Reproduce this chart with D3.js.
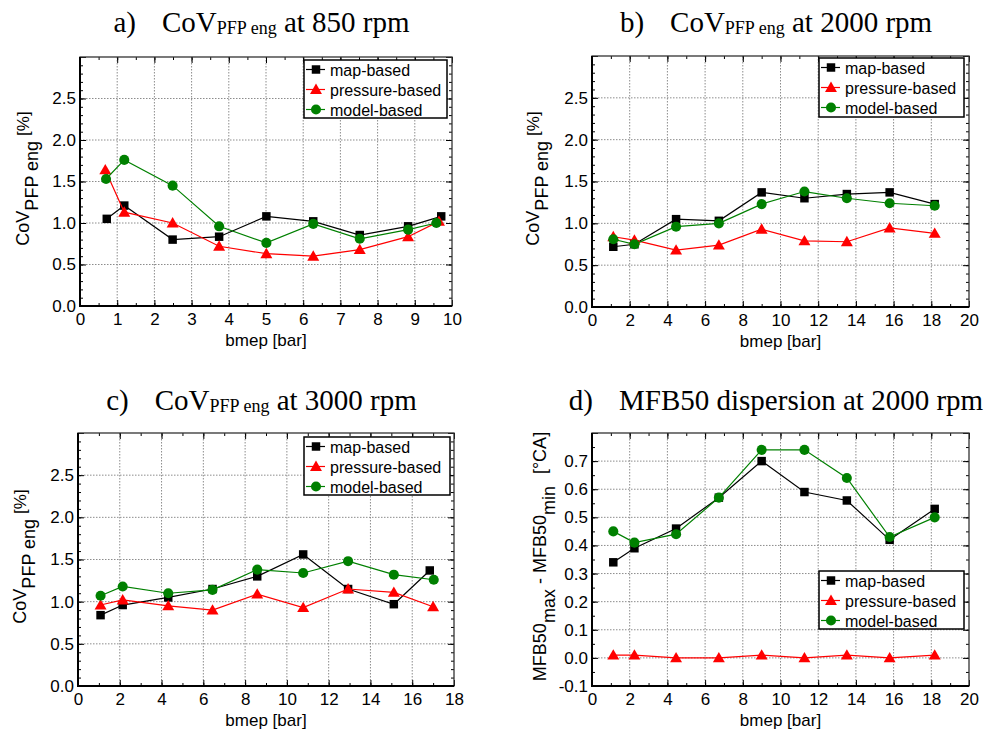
<!DOCTYPE html>
<html><head><meta charset="utf-8">
<script src="https://cdn.jsdelivr.net/npm/d3@7"></script>
<style>
html,body{margin:0;padding:0;background:#fff;}
svg{display:block;}
</style></head>
<body>
<svg id="chart" width="986" height="733"></svg>
<script>
// ---------------- DATA ----------------
const seriesNames = ["map-based", "pressure-based", "model-based"];

// a) CoV PFP eng at 850 rpm
const aX_map      = [0.72, 1.19, 2.49, 3.74, 5.01, 6.27, 7.52, 8.82, 9.71];
const aX_pressure = [0.68, 1.19, 2.49, 3.74, 5.01, 6.27, 7.52, 8.82, 9.65];
const aX_model    = [0.70, 1.19, 2.49, 3.74, 5.01, 6.27, 7.52, 8.82, 9.58];
const aMap      = [1.05, 1.21, 0.80, 0.835, 1.08, 1.02, 0.855, 0.96, 1.08];
const aPressure = [1.64, 1.13, 1.00, 0.72, 0.63, 0.60, 0.68, 0.835, 1.02];
const aModel    = [1.53, 1.76, 1.45, 0.96, 0.76, 0.99, 0.81, 0.92, 1.00];

// b) CoV PFP eng at 2000 rpm
const bX        = [1.13, 2.25, 4.46, 6.73, 9.0, 11.27, 13.52, 15.79, 18.18];
const bMap      = [0.72, 0.75, 1.05, 1.03, 1.37, 1.30, 1.35, 1.37, 1.23];
const bPressure = [0.84, 0.80, 0.68, 0.74, 0.93, 0.79, 0.78, 0.945, 0.88];
const bModel    = [0.81, 0.75, 0.96, 1.00, 1.23, 1.38, 1.30, 1.24, 1.21];

// c) CoV PFP eng at 3000 rpm
const cX_map      = [1.08, 2.14, 4.32, 6.44, 8.58, 10.78, 12.93, 15.12, 16.84];
const cX_pressure = [1.08, 2.14, 4.32, 6.44, 8.58, 10.78, 12.93, 15.12, 17.0];
const cX_model    = [1.08, 2.14, 4.32, 6.44, 8.58, 10.78, 12.93, 15.12, 17.03];
const cMap      = [0.84, 0.96, 1.05, 1.15, 1.30, 1.56, 1.15, 0.97, 1.37];
const cPressure = [0.96, 1.02, 0.95, 0.90, 1.09, 0.93, 1.15, 1.11, 0.94];
const cModel    = [1.07, 1.18, 1.10, 1.14, 1.38, 1.34, 1.48, 1.32, 1.26];

// d) MFB50 dispersion at 2000 rpm
const dX        = [1.13, 2.25, 4.46, 6.73, 9.0, 11.27, 13.52, 15.79, 18.18];
const dMap      = [0.34, 0.39, 0.46, 0.57, 0.70, 0.59, 0.56, 0.42, 0.53];
const dPressure = [0.01, 0.01, 0.00, 0.00, 0.01, 0.00, 0.01, 0.00, 0.01];
const dModel    = [0.45, 0.41, 0.44, 0.57, 0.74, 0.74, 0.64, 0.43, 0.50];

// tick labels
const xTicksA = [0,1,2,3,4,5,6,7,8,9,10];
const xTicksB = [0,2,4,6,8,10,12,14,16,18,20];
const xTicksC = [0,2,4,6,8,10,12,14,16,18];
const xTicksD = [0,2,4,6,8,10,12,14,16,18,20];
const yTicksCov = [0,0.5,1.0,1.5,2.0,2.5];
const yTicksD = [-0.1,0,0.1,0.2,0.3,0.4,0.5,0.6,0.7];

// ---------------- DRAW ----------------
const svg = d3.select("#chart");
const colors = ["#000000", "#ff0000", "#008000"];
const symbols = [d3.symbolSquare, d3.symbolTriangle, d3.symbolCircle];
const symSizes = [72, 62, 80];
const SANS = "'Liberation Sans', Arial, sans-serif";
const SERIF = "'Liberation Serif', 'Times New Roman', serif";
const fmt = v => d3.format(".1f")(v).replace("\u2212", "-");

function range(a, b, s) { const r = []; for (let v = a; v <= b + 1e-9; v += s) r.push(+v.toFixed(6)); return r; }

const panels = [
  { L:80, R:452, T:57, B:306, xd:[0,10], xt:xTicksA, xminor:0.5, yd:[0,3], yt:yTicksCov, yminor:0.1, yMajAll:0.5,
    xs:[aX_map, aX_pressure, aX_model], ys:[aMap, aPressure, aModel],
    title:["a)", "CoV", "PFP eng", " at 850 rpm"], titleY:32, ylabX:29, ylabType:"cov",
    leg:{x:304, y:60, w:143, h:58}, xlabY:346 },
  { L:592, R:969, T:56, B:307, xd:[0,20], xt:xTicksB, xminor:1, yd:[0,3], yt:yTicksCov, yminor:0.1, yMajAll:0.5,
    xs:[bX, bX, bX], ys:[bMap, bPressure, bModel],
    title:["b)", "CoV", "PFP eng", " at 2000 rpm"], titleY:32, ylabX:539, ylabType:"cov",
    leg:{x:819, y:58, w:145, h:59}, xlabY:347 },
  { L:78, R:454, T:433, B:686, xd:[0,18], xt:xTicksC, xminor:1, yd:[0,3], yt:yTicksCov, yminor:0.1, yMajAll:0.5,
    xs:[cX_map, cX_pressure, cX_model], ys:[cMap, cPressure, cModel],
    title:["c)", "CoV", "PFP eng", " at 3000 rpm"], titleY:410, ylabX:26, ylabType:"cov",
    leg:{x:304, y:437, w:146, h:58}, xlabY:726 },
  { L:592, R:969, T:433, B:686, xd:[0,20], xt:xTicksD, xminor:1, yd:[-0.1,0.8], yt:yTicksD, yminor:0.05, yMajAll:0.1,
    xs:[dX, dX, dX], ys:[dMap, dPressure, dModel],
    title:["d)", "MFB50 dispersion at 2000 rpm"], titleY:410, ylabX:546, ylabType:"mfb",
    leg:{x:819, y:571, w:145, h:58}, xlabY:726 }
];

panels.forEach(p => {
  const g = svg.append("g");
  const x = d3.scaleLinear().domain(p.xd).range([p.L, p.R]);
  const y = d3.scaleLinear().domain(p.yd).range([p.B, p.T]);

  // grid
  const yMajorAll = range(p.yd[0], p.yd[1], p.yMajAll);
  g.append("g").selectAll("line").data(p.xt.filter(v => v > p.xd[0] && v < p.xd[1])).join("line")
    .attr("x1", d => x(d)).attr("x2", d => x(d)).attr("y1", p.T).attr("y2", p.B)
    .attr("stroke", "#8c8c8c").attr("stroke-width", 1).attr("stroke-dasharray", "1.5,1.5");
  g.append("g").selectAll("line").data(yMajorAll.filter(v => v > p.yd[0] + 1e-9 && v < p.yd[1] - 1e-9)).join("line")
    .attr("x1", p.L).attr("x2", p.R).attr("y1", d => y(d)).attr("y2", d => y(d))
    .attr("stroke", "#8c8c8c").attr("stroke-width", 1).attr("stroke-dasharray", "1.5,1.5");

  // axes with inward ticks (all four sides)
  const xMinorTicks = range(p.xd[0], p.xd[1], p.xminor);
  const yMinorTicks = range(p.yd[0], p.yd[1], p.yminor);
  const axB = d3.axisBottom(x).tickValues(xMinorTicks).tickSizeInner(-3).tickSizeOuter(0).tickFormat("");
  const axT = d3.axisTop(x).tickValues(xMinorTicks).tickSizeInner(-3).tickSizeOuter(0).tickFormat("");
  const axL = d3.axisLeft(y).tickValues(yMinorTicks).tickSizeInner(-3).tickSizeOuter(0).tickFormat("");
  const axR = d3.axisRight(y).tickValues(yMinorTicks).tickSizeInner(-3).tickSizeOuter(0).tickFormat("");
  const majB = d3.axisBottom(x).tickValues(p.xt).tickSizeInner(-6).tickSizeOuter(0).tickPadding(7).tickFormat(d3.format("d"));
  const majT = d3.axisTop(x).tickValues(p.xt).tickSizeInner(-6).tickSizeOuter(0).tickFormat("");
  const majL = d3.axisLeft(y).tickValues(yMajorAll).tickSizeInner(-6).tickSizeOuter(0).tickPadding(4)
      .tickFormat(v => p.yt.some(t => Math.abs(t - v) < 1e-9) ? fmt(v) : "");
  const majR = d3.axisRight(y).tickValues(yMajorAll).tickSizeInner(-6).tickSizeOuter(0).tickFormat("");

  const addAxis = (ax, tx, ty) => {
    const a = g.append("g").attr("transform", `translate(${tx},${ty})`).call(ax);
    a.select(".domain").remove();
    a.selectAll("line").attr("stroke", "#000").attr("stroke-width", 1);
    a.selectAll("text").attr("font-family", SANS).attr("font-size", 17).attr("fill", "#000");
    return a;
  };
  addAxis(axB, 0, p.B); addAxis(axT, 0, p.T); addAxis(axL, p.L, 0); addAxis(axR, p.R, 0);
  addAxis(majB, 0, p.B); addAxis(majT, 0, p.T); addAxis(majL, p.L, 0); addAxis(majR, p.R, 0);

  // frame
  g.append("rect").attr("x", p.L).attr("y", p.T).attr("width", p.R - p.L).attr("height", p.B - p.T)
    .attr("fill", "none").attr("stroke", "#333").attr("stroke-width", 1.3);
  g.append("path").attr("d", `M${p.L},${p.T}V${p.B}H${p.R}`).attr("fill", "none")
    .attr("stroke", "#000").attr("stroke-width", 2);

  // series
  seriesNames.forEach((name, i) => {
    const pts = p.xs[i].map((xv, k) => [xv, p.ys[i][k]]);
    g.append("path").datum(pts)
      .attr("d", d3.line().x(d => x(d[0])).y(d => y(d[1])))
      .attr("fill", "none").attr("stroke", colors[i]).attr("stroke-width", 1.2);
    g.append("g").selectAll("path").data(pts).join("path")
      .attr("transform", d => `translate(${x(d[0])},${y(d[1]) + (i === 1 ? 1 : 0)})`)
      .attr("d", d3.symbol().type(symbols[i]).size(symSizes[i]))
      .attr("fill", colors[i]);
  });

  // legend
  const lg = g.append("g");
  lg.append("rect").attr("x", p.leg.x).attr("y", p.leg.y).attr("width", p.leg.w).attr("height", p.leg.h)
    .attr("fill", "#fff").attr("stroke", "#000").attr("stroke-width", 1.5);
  seriesNames.forEach((name, i) => {
    const yy = p.leg.y + 9.5 + i * 20;
    lg.append("line").attr("x1", p.leg.x + 2).attr("x2", p.leg.x + 21).attr("y1", yy).attr("y2", yy)
      .attr("stroke", colors[i]).attr("stroke-width", 1.2);
    lg.append("path").attr("transform", `translate(${p.leg.x + 12},${yy + (i === 1 ? 1 : 0)})`)
      .attr("d", d3.symbol().type(symbols[i]).size(symSizes[i])).attr("fill", colors[i]);
    lg.append("text").attr("x", p.leg.x + 26).attr("y", yy + 6)
      .attr("font-family", SANS).attr("font-size", 16).attr("fill", "#000").text(name);
  });

  // x label
  g.append("text").attr("x", (p.L + p.R) / 2).attr("y", p.xlabY).attr("text-anchor", "middle")
    .attr("font-family", SANS).attr("font-size", 17).text("bmep [bar]");

  // y label
  const yl = g.append("text").attr("text-anchor", "middle").attr("font-family", SANS).attr("fill", "#000")
    .attr("transform", `translate(${p.ylabX},${(p.T + p.B) / 2 - 3}) rotate(-90)`);
  if (p.ylabType === "cov") {
    yl.append("tspan").attr("font-size", 18).text("CoV");
    yl.append("tspan").attr("font-size", 18).attr("dy", 8.5).text("PFP eng");
    yl.append("tspan").attr("font-size", 17).attr("dy", -8.5).attr("dx", 5).text("[%]");
  } else {
    yl.append("tspan").attr("font-size", 18).text("MFB50");
    yl.append("tspan").attr("font-size", 18).attr("dy", 8.5).text("max");
    yl.append("tspan").attr("font-size", 18).attr("dy", -8.5).text(" - MFB50");
    yl.append("tspan").attr("font-size", 18).attr("dy", 8.5).text("min");
    yl.append("tspan").attr("font-size", 18).attr("dy", -8.5).attr("dx", 12).text("[°CA]");
  }

  // title
  const t = g.append("text").attr("x", (p.L + p.R) / 2 - 4.5).attr("y", p.titleY).attr("text-anchor", "middle")
    .attr("font-family", SERIF).attr("font-size", 29).attr("fill", "#000");
  t.append("tspan").text(p.title[0]);
  t.append("tspan").attr("dx", 26).text(p.title[1]);
  if (p.title.length > 2) {
    t.append("tspan").attr("font-size", 18).attr("dy", 2).text(p.title[2]);
    t.append("tspan").attr("dy", -2).text(p.title[3]);
  }
});
</script>
</body></html>
